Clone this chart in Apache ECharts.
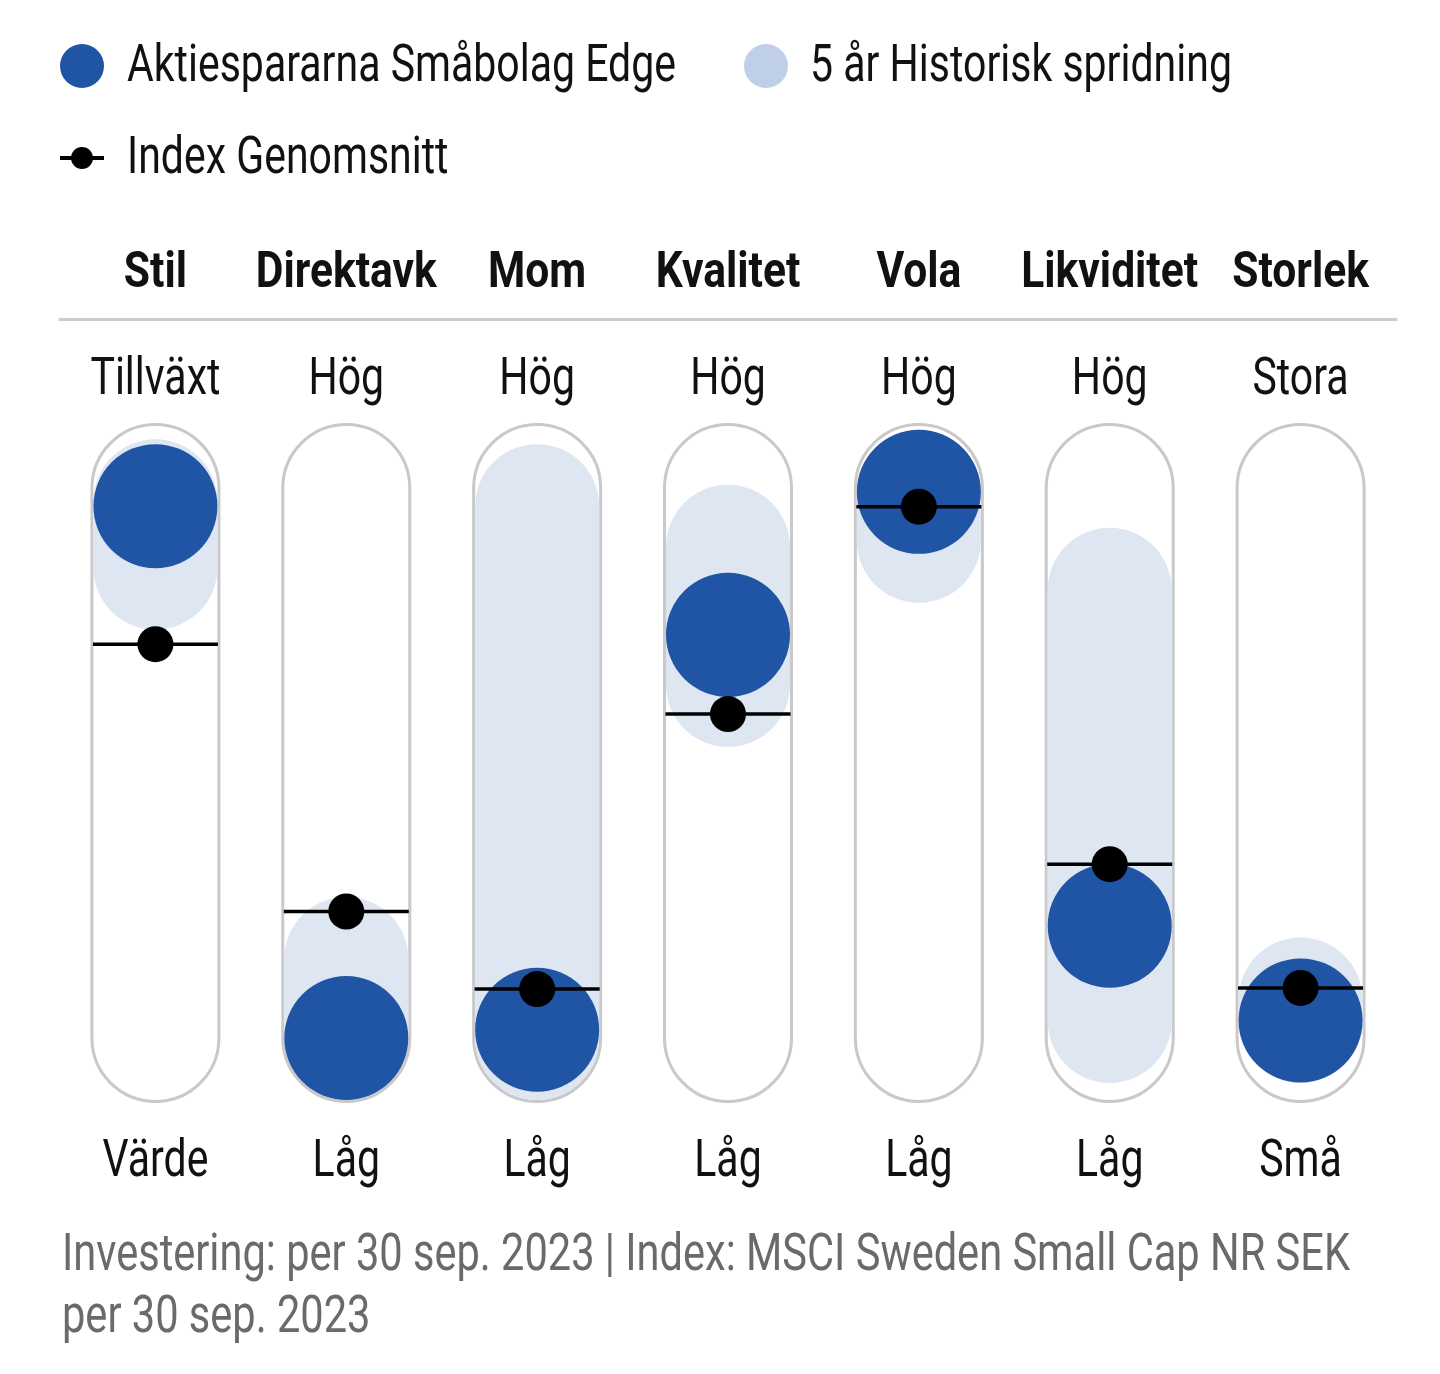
<!DOCTYPE html>
<html>
<head>
<meta charset="utf-8">
<script src="https://cdn.jsdelivr.net/npm/echarts@6/dist/echarts.min.js"></script>
<style>
html,body{margin:0;padding:0;background:#fff;}
#chart{width:1440px;height:1374px;}
</style>
</head>
<body>
<div id="chart"></div>
<script>
const categories = ['Stil','Direktavk','Mom','Kvalitet','Vola','Likviditet','Storlek'];
const topLabels = ['Tillväxt','Hög','Hög','Hög','Hög','Hög','Stora'];
const bottomLabels = ['Värde','Låg','Låg','Låg','Låg','Låg','Små'];
const fundValues = [96.7, 0, 1.5, 73.3, 99.3, 20.4, 3.2];
const indexValues = [71.6, 23.0, 8.9, 58.9, 96.6, 31.6, 9.1];
const rangeLow = [85.5, 0, 0, 64.2, 90.4, 3.1, 3.1];
const rangeHigh = [97.6, 14.4, 96.7, 89.3, 99.3, 81.5, 7.0];
const scaleMin = 0, scaleMax = 100;
const seriesNames = ['Aktiespararna Småbolag Edge', '5 år Historisk spridning', 'Index Genomsnitt'];
const footnoteLines = ['Investering: per 30 sep. 2023 | Index: MSCI Sweden Small Cap NR SEK', 'per 30 sep. 2023'];

const FONT = "Roboto, 'Noto Sans', sans-serif";
const NSIZE = 51, BSIZE = 50;
const BLUE = '#2055a5', RANGE = '#dee6f1', LEGRANGE = '#bfcfe7', OUTLINE = '#c9c9c9', INK = '#111';

// condensed look: horizontal scale derived from measured widths
const ctx = document.createElement('canvas').getContext('2d');
ctx.font = 'normal ' + NSIZE + 'px ' + FONT;
const SX = 549 / ctx.measureText(seriesNames[0]).width;
const SXF = 1288 / ctx.measureText(footnoteLines[0]).width;
ctx.font = 'bold ' + BSIZE + 'px ' + FONT;
const SXB = 181 / ctx.measureText('Direktavk').width;

const chart = echarts.init(document.getElementById('chart'));

const outlineData = categories.map((c, i) => [i, scaleMin, scaleMax]);
const rangeData = categories.map((c, i) => [i, rangeLow[i], rangeHigh[i]]);
const fundData = categories.map((c, i) => [i, fundValues[i]]);
const indexData = categories.map((c, i) => [i, indexValues[i]]);

function capsule(api, half, style) {
  const i = api.value(0);
  const top = api.coord([i, api.value(2)]);
  const bot = api.coord([i, api.value(1)]);
  return {
    type: 'rect',
    shape: { x: top[0] - half, y: top[1] - half, width: half * 2, height: bot[1] - top[1] + half * 2, r: half },
    style: style
  };
}

function txt(text, x, cy, opts) {
  opts = opts || {};
  const bold = !!opts.bold;
  const size = bold ? BSIZE : NSIZE;
  return {
    type: 'text', x: x, y: cy,
    scaleX: opts.sx || (bold ? SXB : SX), scaleY: 1,
    silent: true,
    style: {
      text: text,
      fontFamily: FONT, fontSize: size, fontWeight: bold ? 'bold' : 'normal',
      fill: opts.color || INK,
      textAlign: opts.align || 'center',
      textVerticalAlign: 'middle'
    }
  };
}

const option = {
  backgroundColor: '#fff',
  animation: false,
  grid: { left: 60, right: 44, top: 488, bottom: 336 },
  xAxis: {
    type: 'category', data: categories, position: 'top', offset: 169,
    axisLine: { show: true, onZero: false, lineStyle: { color: '#cccccc', width: 3 } },
    axisTick: { show: false },
    axisLabel: { show: false }
  },
  yAxis: { type: 'value', min: scaleMin, max: scaleMax, show: false },
  series: [
    {
      type: 'custom', name: 'outline', z: 1, silent: true,
      data: outlineData,
      renderItem: (params, api) => capsule(api, 63.5, { fill: '#fff', stroke: OUTLINE, lineWidth: 3 })
    },
    {
      type: 'custom', name: seriesNames[1], z: 2,
      data: rangeData,
      renderItem: (params, api) => capsule(api, 62, { fill: RANGE })
    },
    {
      type: 'scatter', name: seriesNames[0], z: 3, clip: false,
      symbol: 'circle', symbolSize: 124,
      itemStyle: { color: BLUE, opacity: 1 },
      data: fundData
    },
    {
      type: 'custom', name: seriesNames[2], z: 4,
      data: indexData,
      renderItem: (params, api) => {
        const c = api.coord([api.value(0), api.value(1)]);
        return {
          type: 'group',
          children: [
            { type: 'line', shape: { x1: c[0] - 62.5, y1: c[1], x2: c[0] + 62.5, y2: c[1] }, style: { stroke: '#000', lineWidth: 3.5 } },
            { type: 'circle', shape: { cx: c[0], cy: c[1], r: 18 }, style: { fill: '#000' } }
          ]
        };
      }
    }
  ]
};
chart.setOption(option);

// text and legend drawn as graphic elements, positioned from the category axis
const g = [];
g.push({ type: 'circle', shape: { cx: 82, cy: 66, r: 22 }, style: { fill: BLUE }, silent: true });
g.push(txt(seriesNames[0], 127, 68, { align: 'left' }));
g.push({ type: 'circle', shape: { cx: 766, cy: 66, r: 22 }, style: { fill: LEGRANGE }, silent: true });
g.push(txt(seriesNames[1], 810, 68, { align: 'left' }));
g.push({ type: 'rect', shape: { x: 60, y: 156, width: 44, height: 4 }, style: { fill: '#000' }, silent: true });
g.push({ type: 'circle', shape: { cx: 82, cy: 158, r: 11 }, style: { fill: '#000' }, silent: true });
g.push(txt(seriesNames[2], 127, 160, { align: 'left' }));

categories.forEach((c, i) => {
  const x = chart.convertToPixel({ xAxisIndex: 0 }, i);
  g.push(txt(c, x, 274, { bold: true }));
  g.push(txt(topLabels[i], x, 381));
  g.push(txt(bottomLabels[i], x, 1163));
});
footnoteLines.forEach((l, k) => g.push(txt(l, 62, 1257 + k * 62, { align: 'left', color: '#6a6a6a', sx: SXF })));

chart.setOption({ graphic: { elements: g } });
</script>
</body>
</html>
